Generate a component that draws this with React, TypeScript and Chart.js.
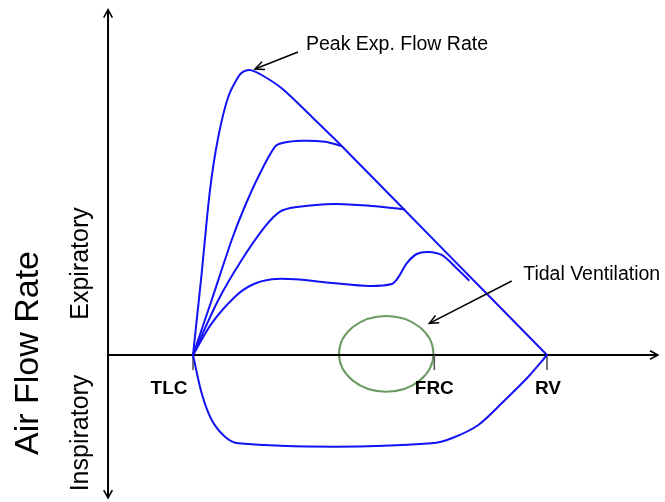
import React, { useEffect, useRef } from "react";
import { Chart, registerables } from "chart.js";

Chart.register(...registerables);

// Volume (x) and flow (y) values
const TLC = 0;
const FRC = 4.09;
const RV = 6;
const volumeTicks = [TLC, FRC, RV];
const volumeTickLabels = ["TLC", "FRC", "RV"];

const maxEffortCurve: [number, number][] = [
  [0, 0], [0.147, 2.887], [0.288, 5.83], [0.429, 7.714], [0.598, 9.127],
  [0.768, 9.834], [0.853, 10.011], [0.966, 10.071], [1.164, 9.894],
  [1.503, 9.424], [2.012, 8.42], [2.52, 7.385], [4.26, 3.69], [6.0, 0],
];
const effort2Curve: [number, number][] = [
  [0, 0], [0.317, 1.943], [0.656, 4.064], [0.853, 5.124], [1.107, 6.3],
  [1.39, 7.36], [1.531, 7.502], [1.842, 7.572], [2.237, 7.537], [2.52, 7.385],
];
const effort3Curve: [number, number][] = [
  [0, 0], [0.429, 1.943], [0.825, 3.357], [1.22, 4.534], [1.475, 5.064],
  [1.729, 5.219], [2.407, 5.336], [3.029, 5.265], [3.593, 5.145],
];
const effort4Curve: [number, number][] = [
  [0, 0], [0.317, 1.12], [0.712, 2.06], [0.995, 2.473], [1.334, 2.675],
  [1.729, 2.675], [2.407, 2.534], [2.971, 2.438], [3.368, 2.509],
  [3.48, 2.746], [3.622, 3.24], [3.792, 3.569], [3.988, 3.64],
  [4.215, 3.534], [4.441, 3.12], [4.683, 2.625],
];
const inspiratoryCurve: [number, number][] = [
  [0, 0], [0.147, -1.353], [0.317, -2.297], [0.542, -2.887], [0.768, -3.12],
  [2.407, -3.24], [4.046, -3.12], [4.385, -2.943], [4.836, -2.473],
  [5.288, -1.59], [5.683, -0.767], [6.0, 0],
];
// Tidal loop: centre and half-widths in data units
const tidalCenter = [3.275, 0.042];
const tidalRadius = [0.8, 1.339];

// Axis extents in data units
const axisVolumeAt = -1.44;
const axisVolumeEnd = 7.88;
const axisFlowTop = 12.2;
const axisFlowBottom = -5.05;

// Annotations (data units)
const peakArrow = [1.78, 10.707, 1.051, 10.106];
const peakLabelPos = [1.915, 10.78];
const tidalArrow = [5.402, 2.615, 4.005, 1.12];
const tidalLabelPos = [5.597, 2.65];

const BLUE = "rgb(18,18,245)";
const GREEN = "#6b9a62";
const FONT = '"Liberation Sans", Arial, Helvetica, sans-serif';

function arrowHead(ctx: CanvasRenderingContext2D, fx: number, fy: number, tx: number, ty: number, len: number, half: number) {
  const a = Math.atan2(ty - fy, tx - fx);
  ctx.beginPath();
  ctx.moveTo(tx - len * Math.cos(a - half), ty - len * Math.sin(a - half));
  ctx.lineTo(tx, ty);
  ctx.lineTo(tx - len * Math.cos(a + half), ty - len * Math.sin(a + half));
  ctx.stroke();
}

const overlay = {
  id: "overlay",
  beforeDatasetsDraw(chart: any) {
    const { ctx } = chart;
    const xs = chart.scales.x;
    const ys = chart.scales.y;
    const px = (v: number) => xs.getPixelForValue(v);
    const py = (v: number) => ys.getPixelForValue(v);
    ctx.save();
    // tidal loop
    ctx.strokeStyle = GREEN;
    ctx.lineWidth = 2;
    ctx.beginPath();
    const cx = px(tidalCenter[0]);
    const cy = py(tidalCenter[1]);
    ctx.ellipse(cx, cy, Math.abs(px(tidalCenter[0] + tidalRadius[0]) - cx), Math.abs(py(tidalCenter[1] + tidalRadius[1]) - cy), 0, 0, Math.PI * 2);
    ctx.stroke();

    // axes
    ctx.strokeStyle = "#000";
    ctx.lineWidth = 2;
    const ax = px(axisVolumeAt);
    const ay = py(0);
    ctx.beginPath();
    ctx.moveTo(ax, py(axisFlowTop));
    ctx.lineTo(ax, py(axisFlowBottom));
    ctx.moveTo(ax, ay);
    ctx.lineTo(px(axisVolumeEnd), ay);
    ctx.stroke();
    ctx.lineWidth = 1.6;
    arrowHead(ctx, ax, ay, ax, py(axisFlowTop), 9, 0.5);
    arrowHead(ctx, ax, ay, ax, py(axisFlowBottom), 9, 0.5);
    arrowHead(ctx, ax, ay, px(axisVolumeEnd), ay, 9, 0.5);

    // ticks
    ctx.strokeStyle = "#555";
    ctx.lineWidth = 1.6;
    volumeTicks.forEach((v) => {
      ctx.beginPath();
      ctx.moveTo(px(v), ay);
      ctx.lineTo(px(v), ay + 15);
      ctx.stroke();
    });
    ctx.restore();
  },
  afterDraw(chart: any) {
    const { ctx } = chart;
    const xs = chart.scales.x;
    const ys = chart.scales.y;
    const px = (v: number) => xs.getPixelForValue(v);
    const py = (v: number) => ys.getPixelForValue(v);
    const ay = py(0);
    ctx.save();
    ctx.fillStyle = "#000";
    // tick labels
    ctx.font = `bold 19px ${FONT}`;
    ctx.textAlign = "center";
    ctx.textBaseline = "alphabetic";
    const offsets = [-24, 0, 1];
    volumeTickLabels.forEach((t, i) => {
      ctx.fillText(t, px(volumeTicks[i]) + offsets[i], ay + 39);
    });

    // annotations
    ctx.font = `19.5px ${FONT}`;
    ctx.textAlign = "left";
    ctx.fillText("Peak Exp. Flow Rate", px(peakLabelPos[0]), py(peakLabelPos[1]));
    ctx.fillText("Tidal Ventilation", px(tidalLabelPos[0]), py(tidalLabelPos[1]));

    ctx.strokeStyle = "#000";
    ctx.lineWidth = 1.5;
    const drawArrow = (a: number[]) => {
      const fx = px(a[0]), fy = py(a[1]), tx = px(a[2]), ty = py(a[3]);
      ctx.beginPath();
      ctx.moveTo(fx, fy);
      ctx.lineTo(tx, ty);
      ctx.stroke();
      arrowHead(ctx, fx, fy, tx, ty, 10, 0.42);
    };
    drawArrow(peakArrow);
    drawArrow(tidalArrow);

    // vertical labels
    const vtext = (t: string, size: number, baseX: number, centerY: number) => {
      ctx.save();
      ctx.translate(baseX, centerY);
      ctx.rotate(-Math.PI / 2);
      ctx.font = `${size}px ${FONT}`;
      ctx.textAlign = "center";
      ctx.textBaseline = "alphabetic";
      ctx.fillText(t, 0, 0);
      ctx.restore();
    };
    vtext("Air Flow Rate", 34, 38, 353);
    vtext("Expiratory", 25, 88, 263.5);
    vtext("Inspiratory", 25, 88, 433);
    ctx.restore();
  },
};

export default function App() {
  const ref = useRef<HTMLCanvasElement>(null);
  useEffect(() => {
    if (!ref.current) return;
    const toPts = (c: [number, number][]) => c.map(([x, y]) => ({ x, y }));
    const line = (c: [number, number][]) => ({
      data: toPts(c),
      showLine: true,
      borderColor: BLUE,
      borderWidth: 2,
      pointRadius: 0,
      tension: 0.3,
      fill: false,
    });
    const chart = new Chart(ref.current, {
      type: "scatter",
      data: {
        datasets: [
          line(maxEffortCurve),
          line(effort2Curve),
          line(effort3Curve),
          line(effort4Curve),
          line(inspiratoryCurve),
        ],
      },
      options: {
        animation: false,
        responsive: false,
        maintainAspectRatio: false,
        layout: { padding: 0 },
        plugins: { legend: { display: false }, tooltip: { enabled: false } },
        scales: {
          x: { type: "linear", min: -3.2712, max: 8.0, display: false },
          y: { type: "linear", min: -5.194, max: 12.544, display: false },
        },
      },
      plugins: [overlay],
    });
    return () => chart.destroy();
  }, []);
  return (
    <div style={{ position: "absolute", left: 0, top: 0, width: 665, height: 502, background: "#fff" }}>
      <canvas ref={ref} width={665} height={502} style={{ width: 665, height: 502, display: "block" }} />
    </div>
  );
}
